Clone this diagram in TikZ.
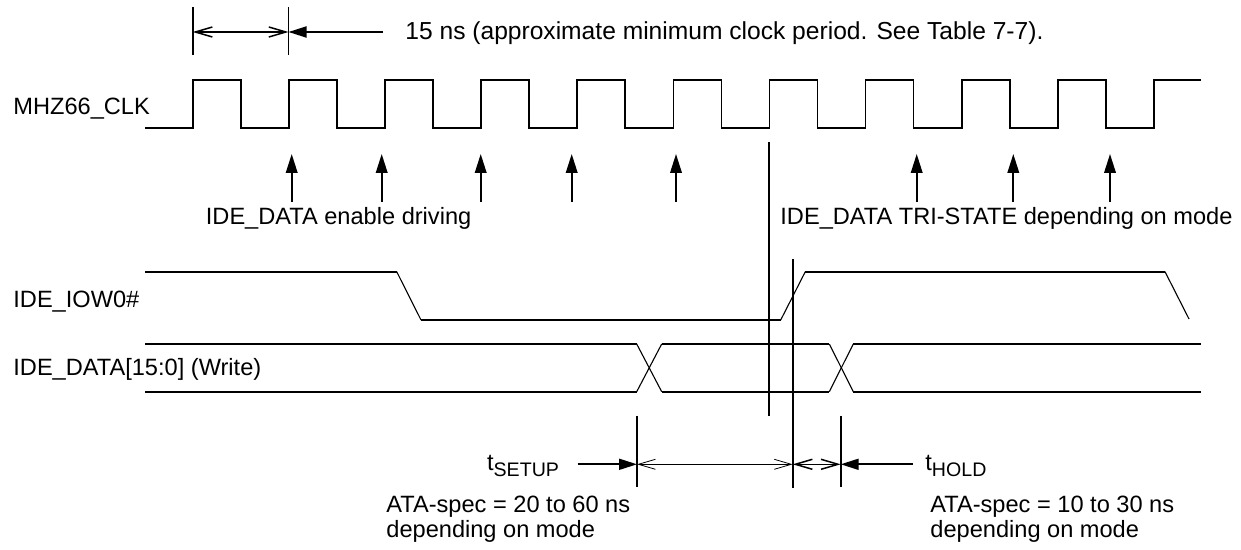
\documentclass[tikz,border=0pt]{standalone}
\usepackage{fontspec}
\setmainfont{Liberation Sans}
\usepackage{tikz}
\usetikzlibrary{positioning, arrows.meta}

\newcommand{\subtxt}[1]{\raisebox{-3.2pt}{\fontsize{9.8}{11}\selectfont #1}}

\begin{document}
\begin{tikzpicture}[
    x=0.5pt, y=-0.5pt,
    font=\fontsize{11.8}{14}\selectfont,
    sig/.style={line width=0.9pt},
    slope/.style={line width=0.55pt},
    vline/.style={line width=0.9pt},
    lbl/.style={inner sep=0pt, anchor=base west},
    openarr/.style={line width=0.75pt, {Straight Barb[length=8.5pt,width=5pt]}-{Straight Barb[length=8.5pt,width=5pt]}},
    thinarr/.style={openarr, line width=0.4pt},
    fillarr/.style={line width=0.9pt, -{Triangle[length=9pt,width=5.5pt]}},
    uparr/.style={line width=0.9pt, -{Triangle[length=9.5pt,width=5.8pt]}},
]
\useasboundingbox (0,0) rectangle (1241,550);

% Signal names
\node[lbl] (clklbl) at (13,115) {MHZ66\_CLK};
\node[lbl] (iowlbl) at (13,308) {IDE\_IOW0\#};
\node[lbl] (datalbl) at (13,375) {IDE\_DATA[15:0] (Write)};

% Clock period
\coordinate (perL) at (192.7,32);
\coordinate (perR) at (288.5,32);
\coordinate (perT) at (383,32);
\draw[vline] (192.7,7) -- (192.7,55);
\draw[vline] (288.5,7) -- (288.5,55);
\draw[openarr] (perL) -- (perR);
\draw[fillarr] (perT) -- (perR);
\node[lbl, font=\fontsize{12.3}{14}\selectfont] (perlbl) at (405,40) {15 ns (approximate minimum clock period. See Table 7-7).};

% MHZ66_CLK
\draw[sig] (145,127.7) foreach \k in {0,...,9} {
    -- ({193+96.08*\k},127.7) -- ({193+96.08*\k},80)
    -- ({241+96.08*\k},80) -- ({241+96.08*\k},127.7) }
    -- (1153.8,127.7) -- (1153.8,80) -- (1201,80);

% Driving / tri-state points
\foreach \x in {291.7, 381.7, 480.7, 571.7, 676, 916.7, 1013.3, 1110}
    \draw[uparr] (\x,201.7) -- (\x,154);
\node[lbl] (enlbl) at (205.5,225) {IDE\_DATA enable driving};
\node[lbl] (trilbl) at (780,225) {IDE\_DATA TRI-STATE depending on mode};

% IDE_IOW0#
\draw[sig] (145,271.7) -- (396.7,271.7);
\draw[slope] (396.7,271.7) -- (421,320);
\draw[sig] (421,320) -- (780.7,320);
\draw[slope] (780.7,320) -- (805.3,271.7);
\draw[sig] (805.3,271.7) -- (1165,271.7);
\draw[slope] (1165,271.7) -- (1189,319);

% IDE_DATA[15:0]
\draw[sig] (145,344) -- (636.7,344);
\draw[sig] (145,391.7) -- (636.7,391.7);
\draw[slope] (636.7,344) -- (661.7,391.7);
\draw[slope] (636.7,391.7) -- (661.7,344);
\draw[sig] (661.7,344) -- (829.3,344);
\draw[sig] (661.7,391.7) -- (829.3,391.7);
\draw[slope] (829.3,344) -- (853.3,391.7);
\draw[slope] (829.3,391.7) -- (853.3,344);
\draw[sig] (853.3,344) -- (1201,344);
\draw[sig] (853.3,391.7) -- (1201,391.7);

% Reference lines
\draw[vline] (769,141.7) -- (769,415.7);
\draw[vline] (792.7,259.3) -- (792.7,488);
\draw[vline] (637,415.7) -- (637,487);
\draw[vline] (840.7,415.7) -- (840.7,487);

% Setup / hold
\coordinate (suL) at (637,464.3);
\coordinate (suR) at (792.7,464.3);
\coordinate (hoR) at (840.7,464.3);
\coordinate (suT) at (577.7,464.3);
\coordinate (hoT) at (912.7,464.3);
\draw[fillarr] (suT) -- (suL);
\draw[thinarr] (suL) -- (suR);
\draw[openarr] (suR) -- (hoR);
\draw[fillarr] (hoT) -- (hoR);

\node[lbl] (setuplbl) at (486.7,470) {t\subtxt{SETUP}};
\node[lbl] (setupspec) at (386,512) {ATA-spec = 20 to 60 ns};
\node[lbl] (setupmode) at (386,537) {depending on mode};
\node[lbl] (holdlbl) at (925,470) {t\subtxt{HOLD}};
\node[lbl] (holdspec) at (930,512) {ATA-spec = 10 to 30 ns};
\node[lbl] (holdmode) at (930,537) {depending on mode};

\end{tikzpicture}
\end{document}
